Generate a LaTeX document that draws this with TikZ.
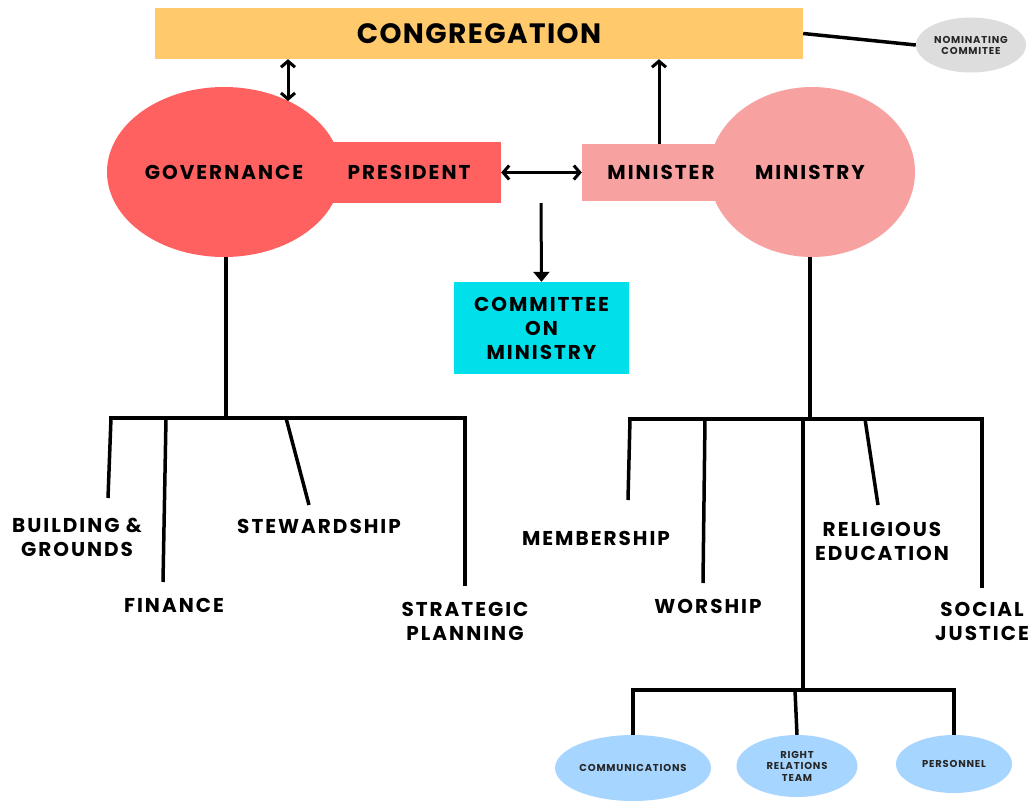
\documentclass[tikz,border=0pt]{standalone}
\usepackage{fontspec}
\setmainfont{Poppins}
\usetikzlibrary{arrows.meta,shapes.geometric}
\definecolor{congc}{HTML}{FFC96C}
\definecolor{govc}{HTML}{FF6161}
\definecolor{minc}{HTML}{F7A1A0}
\definecolor{comc}{HTML}{00E0EA}
\definecolor{nomc}{HTML}{DDDDDD}
\definecolor{bluec}{HTML}{A6D5FF}
\begin{document}
\begin{tikzpicture}[x=1pt,y=-1pt,
  big/.style={font=\bfseries\fontsize{20}{24}\selectfont\addfontfeatures{LetterSpace=10}, align=center, inner sep=0pt, text=black},
  small/.style={font=\bfseries\fontsize{10}{11.5}\selectfont\addfontfeatures{LetterSpace=8}, align=center, inner sep=0pt, text=black!85},
  box/.style={rectangle, inner sep=0pt},
  oval/.style={ellipse, inner sep=0pt},
  conn/.style={line width=3.5pt, black},
  barb/.style={line width=3pt, black, arrows={Straight Barb[length=6pt,width=14pt,line width=3pt]-Straight Barb[length=6pt,width=14pt,line width=3pt]}},
  barbone/.style={line width=3pt, black, arrows={-Straight Barb[length=6pt,width=14pt,line width=3pt]}},
  tri/.style={line width=3pt, black, arrows={-Triangle[length=10pt,width=16pt]}}
]
\useasboundingbox (0,0) rectangle (1029,801);
\fill[white] (0,0) rectangle (1029,801);

% top
\node[box, fill=congc, minimum width=648pt, minimum height=51pt, font=\bfseries\fontsize{28}{30}\selectfont\addfontfeatures{LetterSpace=5}] (cong) at (479,33.5) {CONGREGATION};
\node[oval, fill=nomc, minimum width=110pt, minimum height=55pt, small, font=\bfseries\fontsize{10}{11}\selectfont\addfontfeatures{LetterSpace=8}] (nom) at (971,45) {NOMINATING\\COMMITEE};
\draw[conn] (cong.east) -- (nom.west);

% governance
\node[box, fill=govc, minimum width=171pt, minimum height=61pt] (presbox) at (415.5,172.5) {};
\node[oval, fill=govc, minimum width=234pt, minimum height=170pt, big] (gov) at (224,172) {GOVERNANCE};
\node[big] (pres) at (409,172) {PRESIDENT};

% ministry
\node[box, fill=minc, minimum width=140pt, minimum height=57pt] (minbox) at (652,172.5) {};
\node[oval, fill=minc, minimum width=206pt, minimum height=170pt, big] (ministry) at (812,172) {\hspace*{-4pt}MINISTRY};
\node[big] (minister) at (661,172) {MINISTER};

% committee
\node[box, fill=comc, minimum width=175pt, minimum height=92pt, big] (com) at (541.5,328) {COMMITTEE\\ON\\MINISTRY};

% arrows
\coordinate (ga) at (288,101);
\draw[barb] (ga |- cong.south) -- (ga);
\draw[barb] (presbox.east) -- (minbox.west);
\coordinate (mu) at (659,144);
\draw[barbone] (mu) -- (mu |- cong.south);
\coordinate (cd) at (541,203);
\draw[tri] (cd) -- (com.north);

% governance tree
\coordinate (gj) at (226,418);
\coordinate (gl) at (111,418);
\coordinate (gr) at (465,418);
\draw[conn] (gov.south -| gj) -- (gj);
\draw[conn] ([xshift=-1.75pt]gl) -- ([xshift=1.75pt]gr);
\coordinate (b1) at (108,498);
\coordinate (b2) at (163,582);
\coordinate (b3) at (309,505);
\coordinate (b4) at (465,586);
\draw[conn] (gl) -- (b1);
\draw[conn] (166,418) -- (b2);
\draw[conn] (286,418) -- (b3);
\draw[conn] (gr) -- (b4);
\node[big] (bg) at (77,537) {BUILDING \&\\GROUNDS};
\node[big] (fin) at (174,605) {FINANCE};
\node[big] (stew) at (319,526) {STEWARDSHIP};
\node[big] (strat) at (465,621) {STRATEGIC\\PLANNING};

% ministry tree
\coordinate (mj) at (810,419);
\coordinate (ml) at (630,419);
\coordinate (mr) at (982,419);
\draw[conn] (ministry.south -| mj) -- (mj);
\draw[conn] ([xshift=-1.75pt]ml) -- ([xshift=1.75pt]mr);
\coordinate (m1) at (628,500);
\coordinate (m2) at (703,583);
\coordinate (m3) at (803,690);
\coordinate (m4) at (878,505);
\coordinate (m5) at (982,588);
\draw[conn] (ml) -- (m1);
\draw[conn] (705,419) -- (m2);
\draw[conn] (803,419) -- (m3);
\draw[conn] (865,419) -- (m4);
\draw[conn] (mr) -- (m5);
\node[big] (mem) at (596,538) {MEMBERSHIP};
\node[big] (wor) at (708,606) {WORSHIP};
\node[big] (rel) at (882,541) {RELIGIOUS\\EDUCATION};
\node[big] (soc) at (982,621) {SOCIAL\\JUSTICE};

% bottom tree
\node[oval, fill=bluec, minimum width=156pt, minimum height=66pt, small] (comm) at (633,768) {COMMUNICATIONS};
\node[oval, fill=bluec, minimum width=121pt, minimum height=62pt, small] (rrt) at (797,766) {RIGHT\\RELATIONS\\TEAM};
\node[oval, fill=bluec, minimum width=116pt, minimum height=58pt, small] (pers) at (954,764) {PERSONNEL};
\coordinate (cl) at (633,690);
\coordinate (cr) at (954,690);
\draw[conn] ([xshift=-1.75pt]cl) -- ([xshift=1.75pt]cr);
\draw[conn] (cl) -- (comm.north);
\draw[conn] (795,690) -- (rrt.north);
\draw[conn] (cr) -- (pers.north);
\end{tikzpicture}
\end{document}
